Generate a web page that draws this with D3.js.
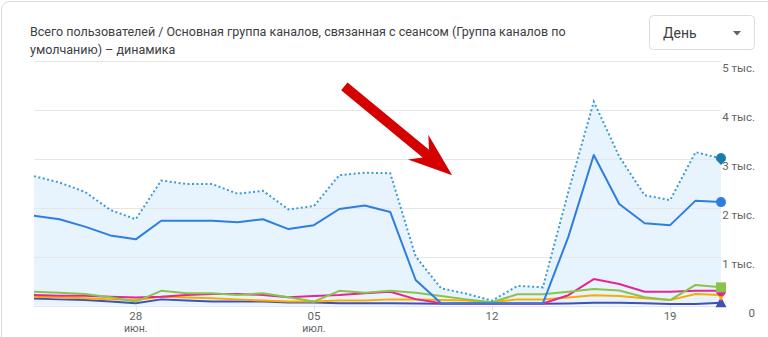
<!DOCTYPE html>
<html>
<head>
<meta charset="utf-8">
<script src="https://cdn.jsdelivr.net/npm/d3@7"></script>
<style>
  html, body { margin: 0; padding: 0; background: #fff; }
  svg { display: block; font-family: Roboto, "Noto Sans", sans-serif; }
</style>
</head>
<body>
<div id="chart"></div>
<script>
// days shown on the x axis
var dates = [
  '2024-06-24', '2024-06-25', '2024-06-26', '2024-06-27', '2024-06-28', '2024-06-29', '2024-06-30',
  '2024-07-01', '2024-07-02', '2024-07-03', '2024-07-04', '2024-07-05', '2024-07-06', '2024-07-07',
  '2024-07-08', '2024-07-09', '2024-07-10', '2024-07-11', '2024-07-12', '2024-07-13', '2024-07-14',
  '2024-07-15', '2024-07-16', '2024-07-17', '2024-07-18', '2024-07-19', '2024-07-20', '2024-07-21'
];

// series
var totalUsers = [2640, 2510, 2320, 1950, 1760, 2550, 2480, 2480, 2280, 2340, 1960, 2030, 2660, 2710,
  2700, 1000, 350, 240, 100, 400, 370, 2320, 4160, 3040, 2250, 2150, 3130, 3000];
var blueUsers = [1830, 1760, 1610, 1430, 1350, 1730, 1730, 1730, 1700, 1760, 1560, 1640, 1970, 2040,
  1910, 520, 45, 45, 45, 45, 45, 1400, 3070, 2070, 1680, 1640, 2140, 2110];
var greenUsers = [280, 260, 235, 170, 80, 300, 250, 250, 215, 250, 170, 80, 300, 260,
  300, 260, 195, 125, 65, 230, 230, 280, 335, 305, 170, 110, 420, 370];
var pinkUsers = [215, 200, 200, 180, 165, 180, 215, 235, 235, 215, 170, 195, 215, 250,
  280, 130, 45, 40, 40, 40, 40, 210, 540, 440, 280, 280, 300, 300];
var orangeUsers = [180, 165, 150, 125, 110, 180, 165, 150, 125, 100, 80, 80, 100, 100,
  125, 125, 110, 100, 65, 125, 125, 165, 210, 195, 150, 110, 235, 215];
var indigoUsers = [145, 125, 110, 80, 45, 125, 100, 80, 80, 80, 60, 60, 45, 45,
  45, 40, 35, 35, 35, 35, 35, 40, 55, 55, 45, 30, 30, 55];

var yTicks = [0, 1000, 2000, 3000, 4000, 5000];
var yTickLabels = ['0', '1 тыс.', '2 тыс.', '3 тыс.', '4 тыс.', '5 тыс.'];
var xTicks = ['2024-06-28', '2024-07-05', '2024-07-12', '2024-07-19'];
var xTickDays = ['28', '05', '12', '19'];
var xTickMonths = ['июн.', 'июл.', '', ''];

var title1 = 'Всего пользователей / Основная группа каналов, связанная с сеансом (Группа каналов по';
var title2 = 'умолчанию) – динамика';

var width = 768, height = 337;
var plot = { left: 34, right: 721, top: 60.5, bottom: 305.5 };

var parse = d3.timeParse('%Y-%m-%d');
var days = dates.map(parse);

var x = d3.scaleTime()
  .domain(d3.extent(days))
  .range([plot.left, plot.right]);
var y = d3.scaleLinear()
  .domain([0, 5000])
  .range([plot.bottom, plot.top]);

var svg = d3.select('#chart').append('svg')
  .attr('width', width)
  .attr('height', height);

// card
svg.append('rect')
  .attr('x', 1.5).attr('y', 1.5)
  .attr('width', width + 20).attr('height', height + 20)
  .attr('rx', 8)
  .attr('fill', '#fff')
  .attr('stroke', '#dadce0');

svg.append('text').attr('x', 30).attr('y', 36)
  .style('font-size', '12.5px').style('fill', '#3c4043')
  .text(title1);
svg.append('text').attr('x', 30).attr('y', 54)
  .style('font-size', '12.5px').style('fill', '#3c4043')
  .text(title2);

// period dropdown
var dd = svg.append('g');
dd.append('rect')
  .attr('x', 649.5).attr('y', 15.5)
  .attr('width', 105).attr('height', 34)
  .attr('rx', 4)
  .attr('fill', '#fff')
  .attr('stroke', '#dadce0');
dd.append('text').attr('x', 663).attr('y', 38)
  .style('font-size', '14px').style('fill', '#3c4043')
  .text('День');
dd.append('path')
  .attr('d', 'M733,31 L741,31 L737,35.5 Z')
  .attr('fill', '#5f6368');

// area under the total
var area = d3.area()
  .x(function (d, i) { return x(days[i]); })
  .y0(y(0))
  .y1(function (d) { return y(d); });
svg.append('path')
  .datum(totalUsers)
  .attr('d', area)
  .attr('fill', '#e8f4fd');

// grid
svg.append('g').selectAll('line')
  .data(yTicks)
  .join('line')
  .attr('x1', plot.left).attr('x2', plot.right)
  .attr('y1', function (d) { return Math.round(y(d)) + 0.5; })
  .attr('y2', function (d) { return Math.round(y(d)) + 0.5; })
  .attr('stroke', '#e6e6e6');

svg.append('g').selectAll('text')
  .data(yTicks)
  .join('text')
  .attr('x', 755)
  .attr('y', function (d) { return y(d) + 11; })
  .attr('text-anchor', 'end')
  .style('font-size', '11.5px')
  .style('fill', '#5f6368')
  .text(function (d, i) { return yTickLabels[i]; });

// x ticks
var xt = svg.append('g').selectAll('g')
  .data(xTicks)
  .join('g')
  .attr('transform', function (d) { return 'translate(' + x(parse(d)) + ',0)'; });
xt.append('line')
  .attr('x1', 0.5).attr('x2', 0.5)
  .attr('y1', plot.bottom).attr('y2', plot.bottom + 5)
  .attr('stroke', '#e0e0e0');
xt.append('text')
  .attr('y', 319.5)
  .attr('text-anchor', 'middle')
  .style('font-size', '11.5px').style('fill', '#5f6368')
  .text(function (d, i) { return xTickDays[i]; });
xt.append('text')
  .attr('y', 332)
  .attr('text-anchor', 'middle')
  .style('font-size', '10.5px').style('fill', '#5f6368')
  .text(function (d, i) { return xTickMonths[i]; });

var line = d3.line()
  .x(function (d, i) { return x(days[i]); })
  .y(function (d) { return y(d); });

var series = [
  { values: indigoUsers, color: '#3f51b5', marker: 'triangle' },
  { values: orangeUsers, color: '#f9ab00', marker: 'down' },
  { values: pinkUsers, color: '#e52592', marker: 'dropUp' },
  { values: greenUsers, color: '#8bc34a', marker: 'square' },
  { values: blueUsers, color: '#2f7de1', marker: 'circle' }
];

svg.append('g').selectAll('path')
  .data(series)
  .join('path')
  .attr('d', function (d) { return line(d.values); })
  .attr('fill', 'none')
  .attr('stroke', function (d) { return d.color; })
  .attr('stroke-width', 2)
  .attr('stroke-linejoin', 'round');

svg.append('path')
  .datum(totalUsers)
  .attr('d', line)
  .attr('fill', 'none')
  .attr('stroke', '#3d9ad6')
  .attr('stroke-width', 2)
  .attr('stroke-dasharray', '2,2.5');

// end markers
var markerPaths = {
  circle: 'M0,-5 A5,5 0 1,1 0,5 A5,5 0 1,1 0,-5 Z',
  square: 'M-5,-5 H5 V5 H-5 Z',
  triangle: 'M0,-6 L5.5,4.5 L-5.5,4.5 Z',
  down: 'M-5.5,-4.5 L5.5,-4.5 L0,6 Z',
  dropUp: 'M0,-6.5 L4.5,-1.8 A5,5 0 1,1 -4.5,-1.8 Z',
  dropDown: 'M0,6.5 L4.5,1.8 A5,5 0 1,0 -4.5,1.8 Z'
};
var last = days.length - 1;
series.concat([{ values: totalUsers, color: '#1a7bb0', marker: 'dropDown' }]).forEach(function (s) {
  svg.append('path')
    .attr('d', markerPaths[s.marker])
    .attr('transform', 'translate(' + x(days[last]) + ',' + y(s.values[last]) + ')')
    .attr('fill', s.color);
});

// red annotation arrow, pointing at the drop
var tail = [x(parse('2024-07-06')) + 5, y(4470)];
var tip = [x(parse('2024-07-10')) + 11, y(2660)];
var dx = tip[0] - tail[0], dy = tip[1] - tail[1];
var len = Math.sqrt(dx * dx + dy * dy);
var ang = Math.atan2(dy, dx) * 180 / Math.PI;
svg.append('path')
  .attr('d', 'M0,-5 L' + (len - 34) + ',-5 L' + (len - 44) + ',-16 L' + len + ',0 L' +
    (len - 44) + ',16 L' + (len - 34) + ',5 L0,5 Z')
  .attr('transform', 'translate(' + tail[0] + ',' + tail[1] + ') rotate(' + ang + ')')
  .attr('fill', '#d50000');
</script>
</body>
</html>
